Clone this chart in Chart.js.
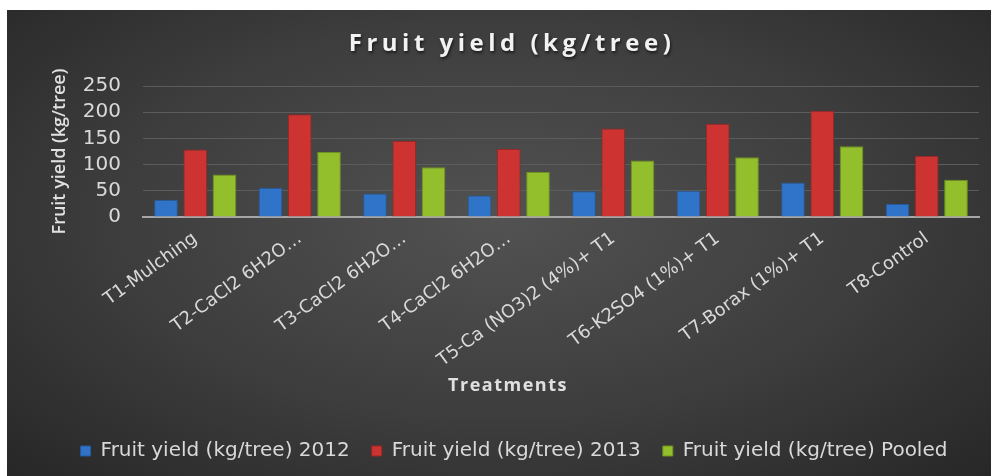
<!DOCTYPE html>
<html>
<head>
<meta charset="utf-8">
<script src="https://cdn.jsdelivr.net/npm/chart.js@4.4.1/dist/chart.umd.min.js"></script>
<style>
    html, body { margin: 0; padding: 0; background: #ffffff; }
    #marco {
        position: absolute; left: 7px; top: 10px; width: 984px; height: 466px;
        background: radial-gradient(ellipse at 50% 45%, #525252 0%, #3d3d3d 55%, #272727 100%);
    }
</style>
</head>
<body>
<div id="marco"><canvas id="graficaRendimiento"></canvas></div>
<script>
// Datos
const tratamientos = [
    'T1-Mulching',
    'T2-CaCl2 6H2O…',
    'T3-CaCl2 6H2O…',
    'T4-CaCl2 6H2O…',
    'T5-Ca (NO3)2 (4%)+ T1',
    'T6-K2SO4 (1%)+ T1',
    'T7-Borax (1%)+ T1',
    'T8-Control'
];
const rendimiento2012 = [33, 56, 45, 41, 49, 50, 66, 25];
const rendimiento2013 = [129, 196, 145, 130, 169, 178, 203, 117];
const rendimientoPooled = [81, 124, 95, 86, 108, 114, 135, 71];
const ticksY = [0, 50, 100, 150, 200, 250];

const tituloGrafica = 'Fruit yield (kg/tree)';
const tituloEjeX = 'Treatments';
const tituloEjeY = 'Fruit yield (kg/tree)';

Chart.defaults.font.family = '"DejaVu Sans", sans-serif';
Chart.defaults.color = '#d9d9d9';

// Titulo principal y del eje X dibujados a mano (espaciado de letras)
const titulosPlugin = {
    id: 'titulos',
    afterDraw(chart) {
        const ctx = chart.ctx;
        ctx.save();
        ctx.textAlign = 'center';
        ctx.textBaseline = 'middle';
        ctx.shadowColor = 'rgba(0,0,0,0.6)';
        ctx.shadowOffsetX = 1;
        ctx.shadowOffsetY = 2;
        ctx.shadowBlur = 3;
        ctx.fillStyle = '#f2f2f2';
        ctx.font = 'bold 24px "Open Sans"';
        ctx.letterSpacing = '4.5px';
        ctx.fillText(tituloGrafica, 505, 34);
        ctx.shadowColor = 'transparent';
        ctx.fillStyle = '#e0e0e0';
        ctx.font = 'bold 18px "Open Sans"';
        ctx.letterSpacing = '1.5px';
        ctx.fillText(tituloEjeX, 501, 376);
        ctx.restore();
    }
};

const ctx = document.getElementById('graficaRendimiento').getContext('2d');
new Chart(ctx, {
    type: 'bar',
    data: {
        labels: tratamientos,
        datasets: [
            {
                label: 'Fruit yield (kg/tree) 2012',
                data: rendimiento2012,
                backgroundColor: '#2f74c8',
                borderColor: '#25599a',
                borderWidth: 1
            },
            {
                label: 'Fruit yield (kg/tree) 2013',
                data: rendimiento2013,
                backgroundColor: '#cc3331',
                borderColor: '#9c2624',
                borderWidth: 1
            },
            {
                label: 'Fruit yield (kg/tree) Pooled',
                data: rendimientoPooled,
                backgroundColor: '#93bf2d',
                borderColor: '#6f9220',
                borderWidth: 1
            }
        ]
    },
    options: {
        responsive: true,
        maintainAspectRatio: false,
        animation: false,
        layout: { padding: { top: 76, left: 42, right: 12, bottom: 5 } },
        datasets: {
            bar: { categoryPercentage: 0.84, barPercentage: 0.81 }
        },
        plugins: {
            title: { display: false },
            tooltip: { enabled: false },
            legend: {
                position: 'bottom',
                labels: {
                    boxWidth: 10,
                    boxHeight: 10,
                    padding: 22,
                    color: '#d9d9d9',
                    font: { size: 20 }
                }
            }
        },
        scales: {
            x: {
                grid: { display: false, drawTicks: false },
                border: { display: true, color: '#a6a6a6', width: 2 },
                ticks: {
                    color: '#d9d9d9',
                    font: { size: 18 },
                    minRotation: 36,
                    maxRotation: 36,
                    padding: 11
                },
                afterFit(scale) { scale.height = 202; }
            },
            y: {
                min: 0,
                max: 250,
                afterBuildTicks(scale) { scale.ticks = ticksY.map(v => ({ value: v })); },
                afterFit(scale) { scale.width = 94; },
                grid: { color: '#5c5c5c', drawTicks: false },
                border: { display: false },
                ticks: {
                    color: '#d9d9d9',
                    font: { size: 20 },
                    padding: 22,
                    autoSkip: false
                },
                title: {
                    display: true,
                    text: tituloEjeY,
                    color: '#e0e0e0',
                    font: { family: '"Open Sans", sans-serif', size: 18, weight: '600' },
                    padding: { top: 0, bottom: 0 }
                }
            }
        }
    },
    plugins: [titulosPlugin]
});
</script>
</body>
</html>
